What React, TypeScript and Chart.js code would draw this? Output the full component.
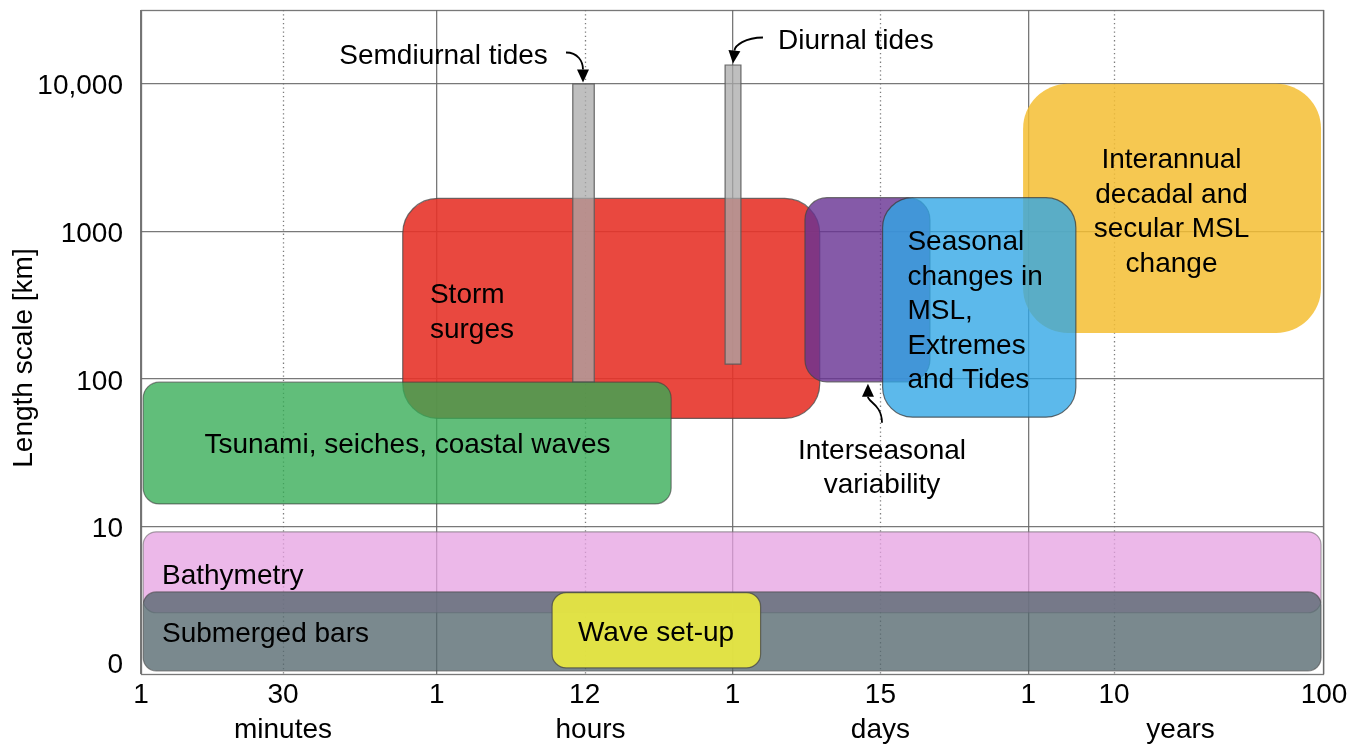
import React, { useEffect, useRef } from "react";
import { Chart, registerables } from "chart.js";

Chart.register(...registerables);

// ---------- Axes ----------
// Time axis (ordinal position of the time marks)
const X_TICK_VALUES = [0, 0.96, 2, 3, 4, 5, 6, 6.58, 8];
const X_TICK_LABELS = ["1", "30", "1", "12", "1", "15", "1", "10", "100"];
const X_TICK_DOTTED = [false, true, false, true, false, true, false, true, false];
const X_UNIT_VALUES = [0.96, 3.04, 5.0, 7.03];
const X_UNIT_LABELS = ["minutes", "hours", "days", "years"];

// Length scale axis [km]
const Y_TICK_VALUES = [1.2, 10, 100, 1000, 10000];
const Y_TICK_LABELS = ["0", "10", "100", "1000", "10,000"];
const Y_MIN = 1;
const Y_MAX = 31623;

// ---------- Phenomena (time range x, length range y in km) ----------
const BOX_NAMES = [
  "Storm surges",
  "Semidiurnal tides",
  "Diurnal tides",
  "Tsunami, seiches, coastal waves",
  "Interseasonal variability",
  "Interannual decadal and secular MSL change",
  "Seasonal changes in MSL, Extremes and Tides",
  "Bathymetry",
  "Submerged bars",
  "Wave set-up",
];
const BOX_X_START = [1.77, 2.92, 3.95, 0.015, 4.49, 5.965, 5.015, 0.015, 0.015, 2.78];
const BOX_X_END = [4.59, 3.065, 4.057, 3.585, 5.335, 7.98, 6.322, 7.98, 7.98, 4.19];
const BOX_Y_LOW = [54, 95, 126, 14.2, 95.5, 205, 55, 2.6, 1.05, 1.1];
const BOX_Y_HIGH = [1670, 10000, 13400, 95, 1690, 10000, 1690, 9.2, 3.6, 3.56];

// ---------- Text annotations ----------
const LABEL_LINES = [
  ["Storm", "surges"],
  ["Tsunami, seiches, coastal waves"],
  ["Interseasonal", "variability"],
  ["Seasonal", "changes in", "MSL,", "Extremes", "and Tides"],
  ["Interannual", "decadal and", "secular MSL", "change"],
  ["Bathymetry"],
  ["Submerged bars"],
  ["Wave set-up"],
  ["Semdiurnal tides"],
  ["Diurnal tides"],
];
const LABEL_X = [1.954, 1.802, 5.011, 5.183, 6.969, 0.142, 0.142, 3.483, 2.046, 4.308];
const LABEL_Y = [384, 36.9, 34.1, 878, 3160, 4.84, 1.94, 1.97, 16030, 20300];
const LABEL_ALIGN = ["left", "center", "center", "left", "center", "left", "left", "center", "center", "left"];

// ---------- Arrows (cubic curves: start, control 1, control 2, tip) ----------
const ARROW_X = [
  [2.874, 2.955, 2.989, 2.989],
  [4.206, 4.085, 4.017, 4.003],
  [5.011, 5.011, 4.916, 4.916],
];
const ARROW_Y = [
  [16290, 16290, 14150, 10195],
  [20590, 20590, 18170, 13720],
  [50.4, 66.8, 69.9, 92.7],
];

// ---------- Styles ----------
const BOX_FILL = [
  "rgba(231,52,42,0.9)",
  "rgba(170,170,170,0.75)",
  "rgba(170,170,170,0.75)",
  "rgba(52,172,85,0.78)",
  "rgba(105,52,148,0.81)",
  "rgba(245,190,50,0.85)",
  "rgba(48,166,229,0.79)",
  "rgba(230,160,225,0.75)",
  "rgba(84,104,110,0.78)",
  "rgba(232,232,66,0.94)",
];
const BOX_STROKE = [
  "rgba(70,70,70,0.75)",
  "rgba(90,90,90,0.9)",
  "rgba(90,90,90,0.9)",
  "rgba(60,60,60,0.6)",
  "rgba(70,70,70,0.75)",
  null,
  "rgba(60,60,60,0.75)",
  "rgba(110,110,110,0.6)",
  "rgba(70,70,70,0.6)",
  "rgba(70,70,70,0.75)",
];
const BOX_RADIUS = [35, 0, 0, 16, 22, 45, 30, 13, 13, 14];
const FONT = "'Liberation Sans', Arial, Helvetica, sans-serif";
const FONT_SIZE = 28;
const LINE_STEP = 34.5;
const TEXT_SHIFT = 3;
const GRID_COLOR = "rgba(105,105,105,0.9)";

const diagramPlugin = {
  id: "diagram",
  beforeDatasetsDraw(chart: any) {
    const { ctx, chartArea: a } = chart;
    const xs = chart.scales.x;
    const ys = chart.scales.y;
    ctx.save();

    // dotted grid lines
    ctx.strokeStyle = "rgba(110,110,110,0.9)";
    ctx.lineWidth = 1.3;
    ctx.setLineDash([1.3, 3]);
    X_TICK_VALUES.forEach((v, i) => {
      if (!X_TICK_DOTTED[i]) return;
      const px = Math.round(xs.getPixelForValue(v)) + 0.5;
      ctx.beginPath();
      ctx.moveTo(px, a.top);
      ctx.lineTo(px, a.bottom);
      ctx.stroke();
    });
    ctx.setLineDash([]);

    // frame
    ctx.strokeStyle = GRID_COLOR;
    ctx.lineWidth = 1.3;
    ctx.strokeRect(a.left + 0.5, a.top + 0.5, a.right - a.left - 1, a.bottom - a.top);

    // boxes
    BOX_NAMES.forEach((_, i) => {
      const x0 = xs.getPixelForValue(BOX_X_START[i]);
      const x1 = xs.getPixelForValue(BOX_X_END[i]);
      const y0 = ys.getPixelForValue(BOX_Y_HIGH[i]);
      const y1 = ys.getPixelForValue(BOX_Y_LOW[i]);
      ctx.beginPath();
      ctx.roundRect(x0, y0, x1 - x0, y1 - y0, BOX_RADIUS[i]);
      ctx.fillStyle = BOX_FILL[i];
      ctx.fill();
      if (BOX_STROKE[i]) {
        ctx.strokeStyle = BOX_STROKE[i] as string;
        ctx.lineWidth = 1.2;
        ctx.stroke();
      }
    });

    // labels
    ctx.fillStyle = "#000";
    ctx.font = `${FONT_SIZE}px ${FONT}`;
    ctx.textBaseline = "middle";
    LABEL_LINES.forEach((lines, i) => {
      const px = xs.getPixelForValue(LABEL_X[i]);
      const py = ys.getPixelForValue(LABEL_Y[i]) + TEXT_SHIFT;
      ctx.textAlign = LABEL_ALIGN[i] as CanvasTextAlign;
      lines.forEach((t, j) => ctx.fillText(t, px, py + j * LINE_STEP));
    });

    // arrows
    ARROW_X.forEach((axs, i) => {
      const pts = axs.map((v, j) => [xs.getPixelForValue(v), ys.getPixelForValue(ARROW_Y[i][j])]);
      const [p0, p1, p2, p3] = pts;
      const ang = Math.atan2(p3[1] - p2[1], p3[0] - p2[0]);
      const len = 13;
      const hw = 6;
      const bx = p3[0] - Math.cos(ang) * len;
      const by = p3[1] - Math.sin(ang) * len;
      ctx.strokeStyle = "#000";
      ctx.lineWidth = 1.8;
      ctx.beginPath();
      ctx.moveTo(p0[0], p0[1]);
      ctx.bezierCurveTo(p1[0], p1[1], p2[0], p2[1], bx, by);
      ctx.stroke();
      ctx.fillStyle = "#000";
      ctx.beginPath();
      ctx.moveTo(p3[0], p3[1]);
      ctx.lineTo(bx + Math.sin(ang) * hw, by - Math.cos(ang) * hw);
      ctx.lineTo(bx - Math.sin(ang) * hw, by + Math.cos(ang) * hw);
      ctx.closePath();
      ctx.fill();
    });

    // y axis title
    ctx.save();
    ctx.translate(24, 358);
    ctx.rotate(-Math.PI / 2);
    ctx.textAlign = "center";
    ctx.textBaseline = "middle";
    ctx.fillStyle = "#000";
    ctx.font = `${FONT_SIZE}px ${FONT}`;
    ctx.fillText("Length scale [km]", 0, 0);
    ctx.restore();

    ctx.restore();
  },
};

export default function App() {
  const ref = useRef<HTMLCanvasElement>(null);
  useEffect(() => {
    const tickFont = { family: FONT, size: FONT_SIZE };
    const chart = new Chart(ref.current as HTMLCanvasElement, {
      type: "scatter",
      data: { datasets: [] },
      plugins: [diagramPlugin],
      options: {
        animation: false,
        responsive: false,
        events: [],
        layout: { padding: { top: 10, right: 31, left: 0, bottom: 0 } },
        plugins: { legend: { display: false }, tooltip: { enabled: false } },
        scales: {
          x: {
            type: "linear",
            position: "bottom",
            min: 0,
            max: 8,
            weight: 0,
            afterBuildTicks: (s: any) => {
              s.ticks = X_TICK_VALUES.map((v) => ({ value: v }));
            },
            afterFit: (s: any) => {
              s.height = 36;
              s.paddingLeft = 0;
              s.paddingRight = 0;
            },
            ticks: {
              autoSkip: false,
              maxRotation: 0,
              padding: 4,
              color: "#000",
              font: tickFont,
              callback: (_v: any, i: number) => X_TICK_LABELS[i],
            },
            grid: {
              drawTicks: false,
              lineWidth: 1.3,
              color: (c: any) => (X_TICK_DOTTED[c.index] ? "rgba(0,0,0,0)" : GRID_COLOR),
            },
            border: { display: false },
          },
          x2: {
            type: "linear",
            position: "bottom",
            min: 0,
            max: 8,
            weight: 1,
            afterBuildTicks: (s: any) => {
              s.ticks = X_UNIT_VALUES.map((v) => ({ value: v }));
            },
            afterFit: (s: any) => {
              s.height = 35;
              s.paddingLeft = 0;
              s.paddingRight = 0;
            },
            ticks: {
              autoSkip: false,
              maxRotation: 0,
              padding: 3,
              color: "#000",
              font: tickFont,
              callback: (_v: any, i: number) => X_UNIT_LABELS[i],
            },
            grid: { display: false, drawTicks: false },
            border: { display: false },
          },
          y: {
            type: "logarithmic",
            position: "left",
            min: Y_MIN,
            max: Y_MAX,
            bounds: "data",
            afterBuildTicks: (s: any) => {
              s.ticks = Y_TICK_VALUES.map((v) => ({ value: v }));
            },
            afterFit: (s: any) => {
              s.width = 141;
              s.paddingTop = 0;
              s.paddingBottom = 0;
            },
            ticks: {
              autoSkip: false,
              padding: 18,
              labelOffset: 3,
              color: "#000",
              font: tickFont,
              callback: (_v: any, i: number) => Y_TICK_LABELS[i],
            },
            grid: {
              drawTicks: false,
              lineWidth: 1.3,
              color: (c: any) => (c.index === 0 ? "rgba(0,0,0,0)" : GRID_COLOR),
            },
            border: { display: false },
          },
        },
      } as any,
    });
    return () => chart.destroy();
  }, []);
  return (
    <div style={{ position: "absolute", left: 0, top: 0, width: 1355, height: 745, background: "#fff" }}>
      <canvas ref={ref} width={1355} height={745} style={{ display: "block" }} />
    </div>
  );
}
